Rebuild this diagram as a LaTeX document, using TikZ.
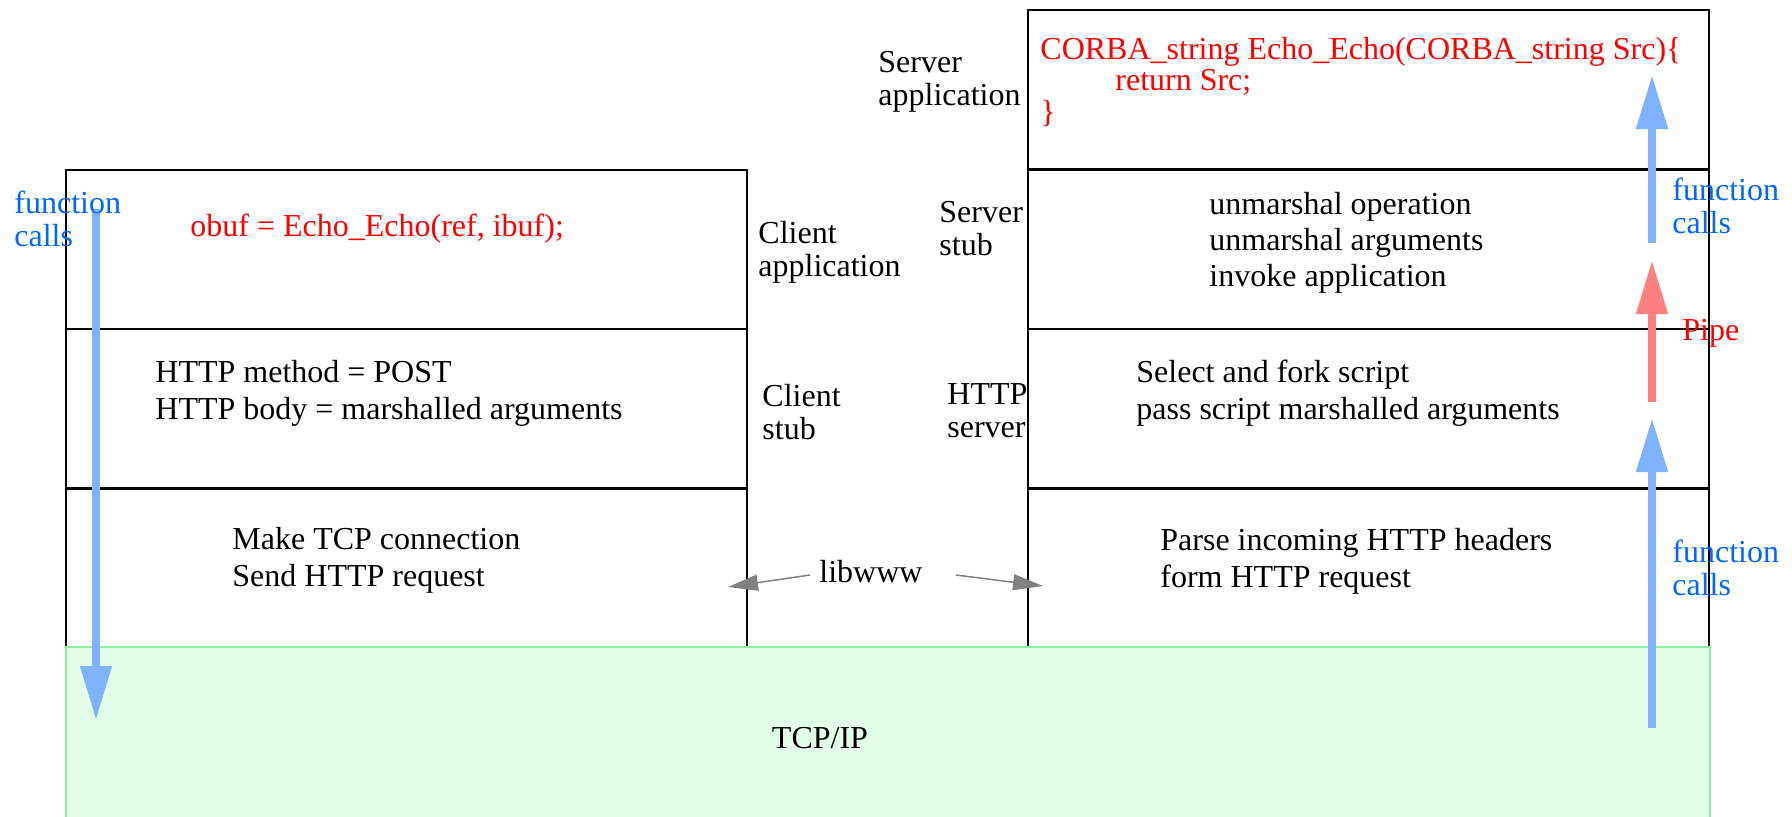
\documentclass[tikz,border=0pt]{standalone}
\usepackage{fontspec}
\setmainfont{Liberation Serif}
\usetikzlibrary{arrows.meta}
\definecolor{call_text}{RGB}{0,102,255}
\definecolor{call_arrow}{RGB}{128,179,255}
\definecolor{pipe_arrow}{RGB}{255,128,128}
\definecolor{tcp_fill}{RGB}{226,255,232}
\definecolor{tcp_line}{RGB}{144,238,160}

\begin{document}
\begin{tikzpicture}[x=0.5pt,y=-0.5pt,
    font=\fontsize{16}{18.5}\selectfont,
    layer/.style={draw=black,line width=0.75pt,inner sep=0pt,anchor=north west,
      minimum width=340.5pt,minimum height=79.5pt},
    txt/.style={anchor=west,inner sep=0pt,align=left},
    lbl/.style={txt,font=\fontsize{16}{16.5}\selectfont},
    calls/.style={lbl,text=call_text},
    flow/.style={line width=4pt,-{Triangle[length=27pt,width=15pt]}},
    lib/.style={draw=gray,line width=0.75pt,-{Triangle[length=15pt,width=8pt]}}]
  \useasboundingbox (0,0) rectangle (1792,816);
  % client side
  \node[layer] (capp) at (65,169) {};
  \node[layer] (cstub) at (65,328) {};
  \node[layer] (clib) at (65,488) {};
  % server side
  \node[layer] (sapp) at (1027,9) {};
  \node[layer] (sstub) at (1027,169) {};
  \node[layer] (shttp) at (1027,328) {};
  \node[layer] (slib) at (1027,488) {};
  % transport
  \node[draw=tcp_line,fill=tcp_fill,line width=0.75pt,inner sep=0pt,anchor=north west,
    minimum width=822pt,minimum height=92pt] (tcp) at (65,646) {};

  \coordinate (down_top) at (96,209);
  \coordinate (down_end) at (96,720);
  \coordinate (up_low) at (1652,728);
  \coordinate (up_low_end) at (1652,418);
  \coordinate (pipe_low) at (1652,402);
  \coordinate (pipe_end) at (1652,260);
  \coordinate (up_high) at (1652,243);
  \coordinate (up_high_end) at (1652,75);
  \draw[flow,call_arrow] (down_top) -- (down_end);
  \draw[flow,call_arrow] (up_low) -- (up_low_end);
  \draw[flow,pipe_arrow] (pipe_low) -- (pipe_end);
  \draw[flow,call_arrow] (up_high) -- (up_high_end);

  \node[calls] (lcalls) at (14,219) {function\\calls};
  \node[txt,text=red] (obuf) at (190,229) {obuf = Echo\_Echo(ref, ibuf);};
  \node[lbl] (capp_lbl) at (758,252) {Client\\application};
  \node[txt] (cstub_txt) at (155,393) {HTTP method = POST\\HTTP body = marshalled arguments};
  \node[lbl] (cstub_lbl) at (762,412) {Client\\stub};
  \node[txt] (clib_txt) at (232,560) {Make TCP connection\\Send HTTP request};

  \node[lbl] (sapp_lbl) at (878,82) {Server\\application};
  \node[txt,text=red,font=\fontsize{16}{15.75}\selectfont] (echo) at (1040,82)
    {CORBA\_string Echo\_Echo(CORBA\_string Src)\{\\\hspace*{37.5pt}return Src;\\\}};
  \node[lbl] (sstub_lbl) at (939,229) {Server\\stub};
  \node[txt,font=\fontsize{16}{18}\selectfont] (sstub_txt) at (1209,243)
    {unmarshal operation\\unmarshal arguments\\invoke application};
  \node[lbl] (shttp_lbl) at (947,411) {HTTP\\server};
  \node[txt] (shttp_txt) at (1136,393) {Select and fork script\\pass script marshalled arguments};
  \node[txt] (slib_txt) at (1160,561) {Parse incoming HTTP headers\\form HTTP request};
  \node[calls] (rcalls_high) at (1672,206) {function\\calls};
  \node[calls] (rcalls_low) at (1672,568) {function\\calls};
  \node[lbl,text=red] (pipe) at (1682,333) {Pipe};

  \node[inner sep=4.5pt] (libwww) at (871,572) {libwww};
  \coordinate (lib_client) at (728,587);
  \coordinate (lib_server) at (1043,586);
  \draw[lib] ([yshift=-1.5pt]libwww.west) -- (lib_client);
  \draw[lib] ([xshift=12pt,yshift=-1.5pt]libwww.east) -- (lib_server);
  \node (tcpip) at (820,738) {TCP/IP};
\end{tikzpicture}
\end{document}
